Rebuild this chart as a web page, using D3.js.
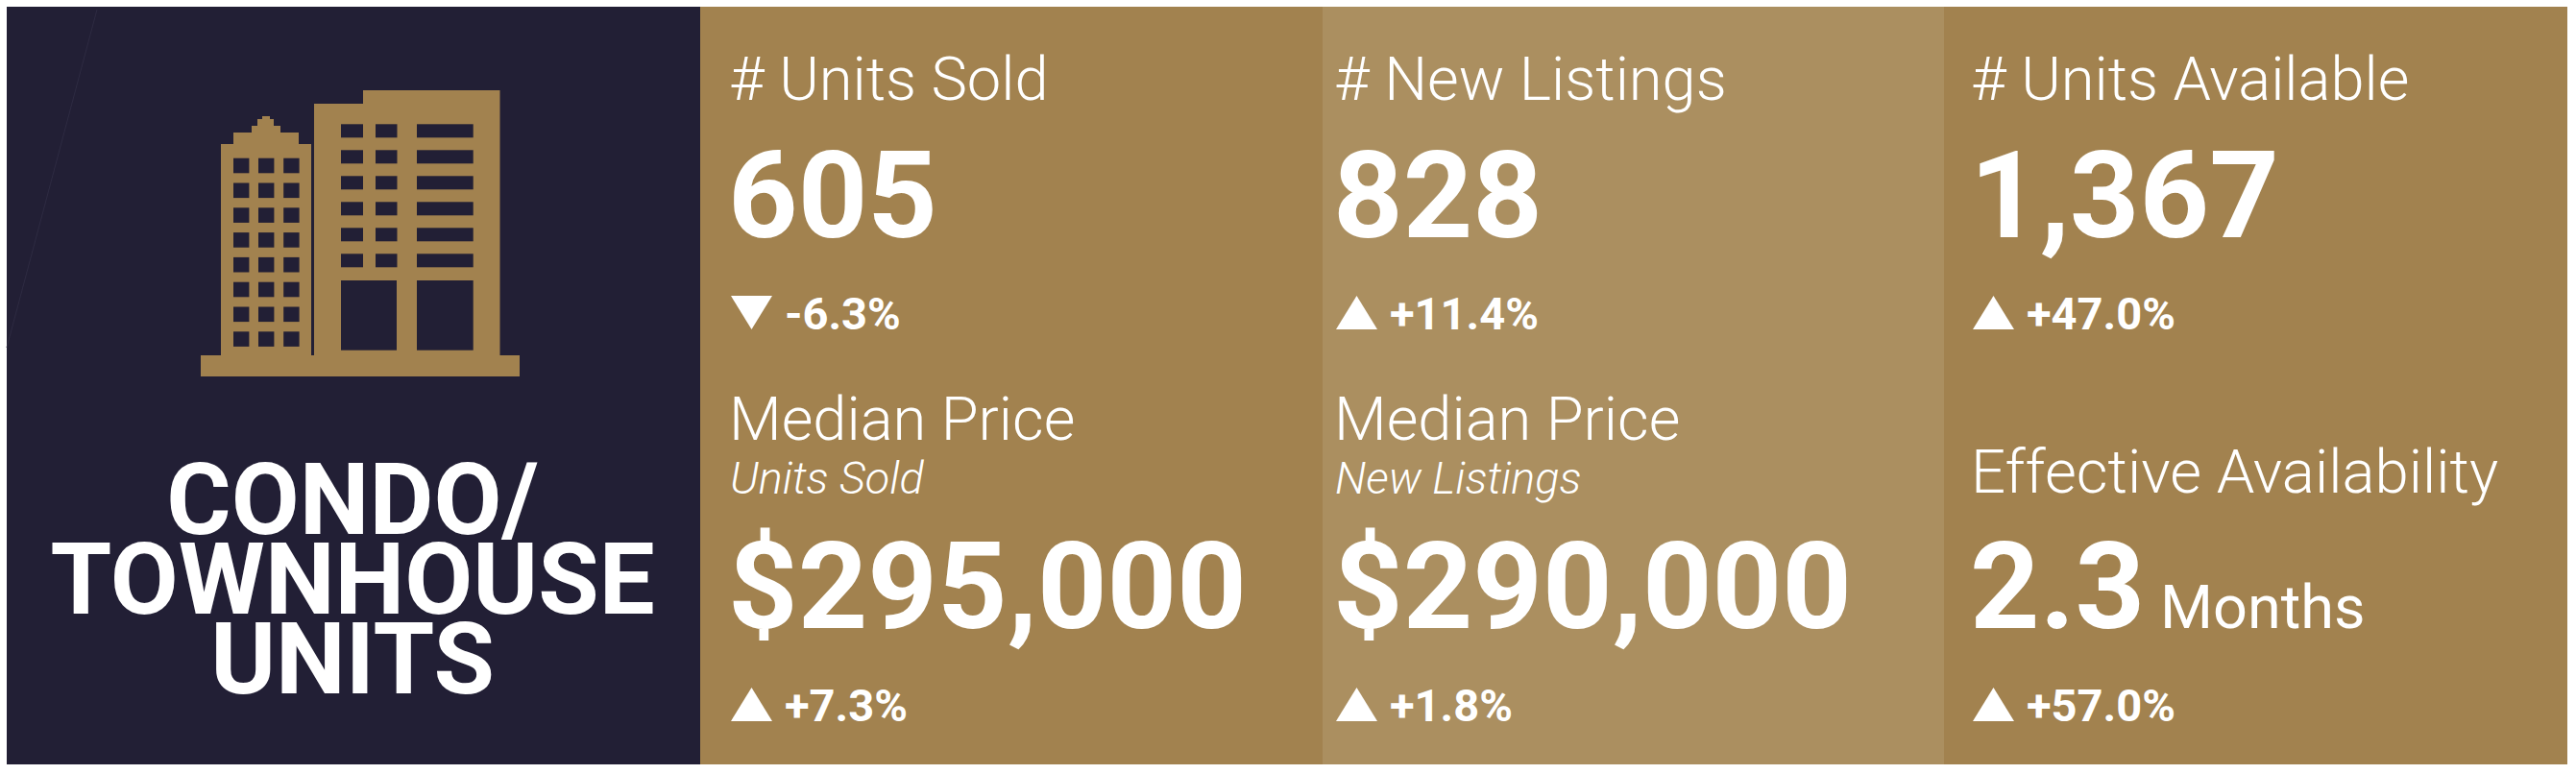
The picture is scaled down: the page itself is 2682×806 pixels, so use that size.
<!DOCTYPE html>
<html><head><meta charset="utf-8">
<script src="https://cdn.jsdelivr.net/npm/d3@7"></script>
<style>html,body{margin:0;padding:0;background:#fff}svg{display:block}text{font-family:Roboto,sans-serif;fill:#fff}</style>
</head><body><div id="c"></div>
<script>
const W=2682,H=806;
const title=["CONDO/","TOWNHOUSE","UNITS"];
const topLabels=["# Units Sold","# New Listings","# Units Available"];
const topValues=["605","828","1,367"];
const topChanges=[-6.3,11.4,47.0];
const lowerLabels=["Median Price","Median Price","Effective Availability"];
const lowerSubs=["Units Sold","New Listings",""];
const lowerValues=["$295,000","$290,000","2.3"];
const lowerUnits=["","","Months"];
const lowerChanges=[7.3,1.8,57.0];
const colFills=["#a2824f","#ab8f60","#a2824f"];
const towerCols=[0,1,2],towerRows=d3.range(8),blockRows=d3.range(6);

const svg=d3.select("#c").append("svg").attr("width",W).attr("height",H).attr("viewBox",`0 0 ${W} ${H}`);
const fmt=v=>(v>=0?"+":"")+v.toFixed(1)+"%";
const DARK="#221f35",GOLD="#a2824f";
svg.append("rect").attr("x",7).attr("y",7).attr("width",722).attr("height",789).attr("fill",DARK);
const bands=[729,1377,2024,2673];
const col=d3.scaleOrdinal().domain([0,1,2]).range([761,1391,2054]);
colFills.forEach((f,i)=>svg.append("rect").attr("x",bands[i]).attr("y",7).attr("width",bands[i+1]-bands[i]).attr("height",789).attr("fill",f));
svg.append("line").attr("x1",101).attr("y1",10).attr("x2",7).attr("y2",362).attr("stroke","#2e2b42").attr("stroke-width",1);

// icon
const g=svg.append("g");
const line=d3.line();
g.append("path").attr("fill",GOLD).attr("d",line([[209,370],[230,370],[230,150],[243,150],[243,138],[262,138],[262,131],[268,131],[268,124],[273,124],[273,121],[281,121],[281,124],[285,124],[285,131],[292,131],[292,138],[311,138],[311,150],[324,150],[324,370],[327,370],[327,108],[378,108],[378,94],[520.5,94],[520.5,370],[541,370],[541,392],[209,392]])+"Z");
const wx=[243,269,295.2];
towerCols.forEach(c=>towerRows.forEach(r=>g.append("rect").attr("x",wx[c]).attr("y",164.7+r*25.8).attr("width",16.4).attr("height",15.6).attr("fill",DARK)));
const bx=[[355,23],[391,22.5],[434,58.7]];
bx.forEach(b=>blockRows.forEach(r=>g.append("rect").attr("x",b[0]).attr("y",129.3+r*27).attr("width",b[1]).attr("height",14).attr("fill",DARK)));
[[355,58],[434,58.7]].forEach(b=>g.append("rect").attr("x",b[0]).attr("y",292).attr("width",b[1]).attr("height",72.7).attr("fill",DARK));

// title
svg.selectAll("text.t").data(title).join("text").attr("class","t").attr("x",367).attr("y",(d,i)=>556+i*83)
 .attr("text-anchor","middle").attr("font-size",103).attr("font-weight",700).text(d=>d);

function tri(x,yTop,up){const w=43,h=35;return line(up?[[x,yTop+h],[x+w/2,yTop],[x+w,yTop+h]]:[[x,yTop],[x+w,yTop],[x+w/2,yTop+h]])+"Z";}
function change(i,v,base){
 const x=col(i);
 svg.append("path").attr("d",tri(x,base-35,v>=0)).attr("fill","#fff");
 svg.append("text").attr("x",x+56).attr("y",base).attr("font-size",47).attr("font-weight",700).text(fmt(v));
}
topLabels.forEach((d,i)=>{
 svg.append("text").attr("x",col(i)-2).attr("y",104).attr("font-size",63.2).attr("font-weight",300).text(d);
 svg.append("text").attr("x",col(i)-3).attr("y",247).attr("font-size",126.7).attr("font-weight",700).text(topValues[i]);
 change(i,topChanges[i],343);
});
lowerLabels.forEach((d,i)=>{
 const hasSub=lowerSubs[i]!=="";
 svg.append("text").attr("x",col(i)-2).attr("y",hasSub?458:513).attr("font-size",hasSub?63.2:63.5).attr("font-weight",300).text(d);
 if(hasSub)svg.append("text").attr("x",col(i)-1).attr("y",514).attr("font-size",46.8).attr("font-weight",300).attr("font-style","italic").text(lowerSubs[i]);
 svg.append("text").attr("x",col(i)-3).attr("y",654).attr("font-size",126.7).attr("font-weight",700).text(lowerValues[i]);
 if(lowerUnits[i])svg.append("text").attr("x",2249).attr("y",654).attr("font-size",63).attr("font-weight",400).text(lowerUnits[i]);
 change(i,lowerChanges[i],751);
});
</script></body></html>
